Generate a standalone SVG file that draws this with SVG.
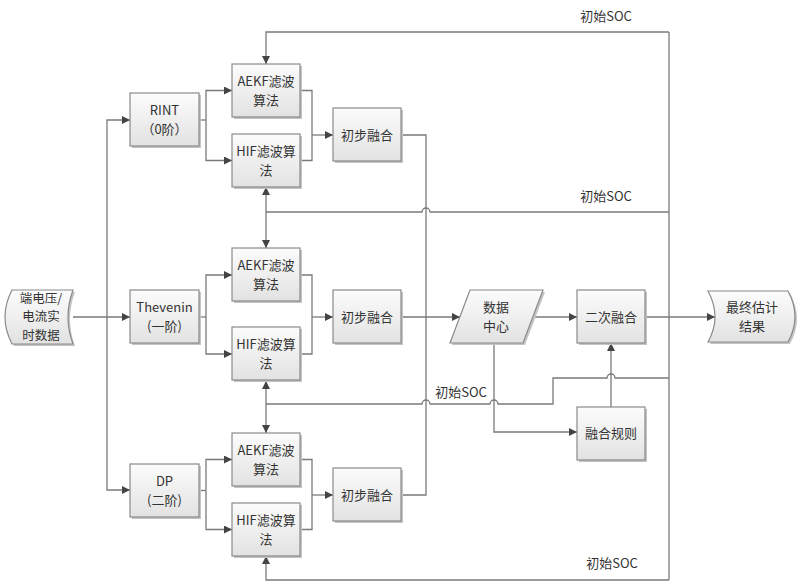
<svg xmlns="http://www.w3.org/2000/svg" width="800" height="586" viewBox="0 0 800 586">
<defs>
<linearGradient id="g" x1="0" y1="0" x2="0" y2="1">
<stop offset="0" stop-color="#fcfcfc"/>
<stop offset="1" stop-color="#e2e2e2"/>
</linearGradient>
<marker id="ar" viewBox="0 0 10 10" refX="10" refY="5" markerWidth="8" markerHeight="8" markerUnits="userSpaceOnUse" orient="auto">
<path d="M0,0 L10,5 L0,10 z" fill="#444"/>
</marker>
</defs>
<style>
.b{fill:url(#g);stroke:#8a8a8a;stroke-width:1.2}
.s{fill:#c4c4c4;stroke:none}
.t{font-family:"Noto Sans CJK SC","Noto Sans",sans-serif;font-size:13px;fill:#333;text-anchor:middle}
.ti{font-family:"Noto Sans CJK SC","Noto Sans",sans-serif;font-size:12.5px;fill:#333;text-anchor:middle}
.l{font-family:"Noto Sans CJK SC","Noto Sans",sans-serif;font-size:13px;fill:#333;text-anchor:middle}
.c{fill:none;stroke:#7a7a7a;stroke-width:1.3}
.a{marker-end:url(#ar)}
</style>
<rect width="800" height="586" fill="#fff"/>

<g id="connectors">
<path class="c a" d="M73,317 H130"/>
<path class="c a" d="M107,317 V120 H130"/>
<path class="c a" d="M107,317 V490 H130"/>
<!-- group 1 -->
<path class="c" d="M199,120 H206"/>
<path class="c a" d="M206,120 V90.5 H232"/>
<path class="c a" d="M206,120 V160.5 H232"/>
<path class="c" d="M300,90.5 H312 V160.5 H300"/>
<path class="c a" d="M312,135 H333"/>
<!-- group 2 -->
<path class="c" d="M199,317 H206"/>
<path class="c a" d="M206,317 V275 H232"/>
<path class="c a" d="M206,317 V354 H232"/>
<path class="c" d="M300,275 H312 V354 H300"/>
<path class="c a" d="M312,317 H333"/>
<!-- group 3 -->
<path class="c" d="M199,490.5 H206"/>
<path class="c a" d="M206,490.5 V459.5 H232"/>
<path class="c a" d="M206,490.5 V529.5 H232"/>
<path class="c" d="M300,459.5 H312 V529.5 H300"/>
<path class="c a" d="M312,495 H333"/>
<!-- preliminary fusion outputs -->
<path class="c" d="M401,135 H426 V495 H401"/>
<path class="c a" d="M401,317 H460"/>
<path class="c a" d="M533,317 H577"/>
<path class="c a" d="M645,317 H715"/>
<path class="c a" d="M494,343 V432 H577"/>
<path class="c a" d="M611,407 V343"/>
<!-- SOC feedback -->
<path class="c" d="M669,32 V580"/>
<path class="c a" d="M669,32 H266 V64"/>
<path class="c a" d="M669,580 H266 V556"/>
<path class="c" d="M266,212 H422 A4,4 0 0 1 430,212 H669"/>
<path class="c a" d="M266,212 V187"/>
<path class="c a" d="M266,212 V248"/>
<path class="c" d="M266,404 H422 A4,4 0 0 1 430,404 H490 A4,4 0 0 1 498,404 H553 V378 H607 A4,4 0 0 1 615,378 H669"/>
<path class="c a" d="M266,404 V381"/>
<path class="c a" d="M266,404 V433"/>
</g>

<g id="labels">
<text class="l" x="606" y="21">初始SOC</text>
<text class="l" x="606" y="201">初始SOC</text>
<text class="l" x="461" y="397">初始SOC</text>
<text class="l" x="612" y="568">初始SOC</text>
</g>

<g id="input">
<path class="s" d="M14,292 L75,292 Q65,319 75,346 L14,346 Q0,319 14,292 z"/>
<path class="b" d="M12,290 L73,290 Q63,317 73,344 L12,344 Q-2,317 12,290 z"/>
<text class="ti" x="41" y="302.5">端电压/</text>
<text class="ti" x="41" y="321">电流实</text>
<text class="ti" x="41" y="339.5">时数据</text>
</g>

<g id="rint">
<rect class="s" x="132" y="95" width="69" height="53"/>
<rect class="b" x="130" y="93" width="69" height="53"/>
<text class="t" x="164.5" y="114.5">RINT</text>
<text class="t" x="164.5" y="133.5">（0阶）</text>
</g>
<g id="thevenin">
<rect class="s" x="132" y="292" width="69" height="53"/>
<rect class="b" x="130" y="290" width="69" height="53"/>
<text class="t" x="164.5" y="311.5">Thevenin</text>
<text class="t" x="164.5" y="330.5">(一阶)</text>
</g>
<g id="dp">
<rect class="s" x="132" y="466" width="69" height="53"/>
<rect class="b" x="130" y="464" width="69" height="53"/>
<text class="t" x="164.5" y="485.5">DP</text>
<text class="t" x="164.5" y="504.5">(二阶)</text>
</g>

<g id="aekf1">
<rect class="s" x="234" y="66" width="68" height="53"/>
<rect class="b" x="232" y="64" width="68" height="53"/>
<text class="t" x="266" y="85.5">AEKF滤波</text>
<text class="t" x="266" y="104.5">算法</text>
</g>
<g id="hif1">
<rect class="s" x="234" y="136" width="68" height="53"/>
<rect class="b" x="232" y="134" width="68" height="53"/>
<text class="t" x="266" y="155.5">HIF滤波算</text>
<text class="t" x="266" y="174.5">法</text>
</g>
<g id="aekf2">
<rect class="s" x="234" y="250" width="68" height="53"/>
<rect class="b" x="232" y="248" width="68" height="53"/>
<text class="t" x="266" y="269.5">AEKF滤波</text>
<text class="t" x="266" y="288.5">算法</text>
</g>
<g id="hif2">
<rect class="s" x="234" y="329" width="68" height="53"/>
<rect class="b" x="232" y="327" width="68" height="53"/>
<text class="t" x="266" y="348.5">HIF滤波算</text>
<text class="t" x="266" y="367.5">法</text>
</g>
<g id="aekf3">
<rect class="s" x="234" y="435" width="68" height="53"/>
<rect class="b" x="232" y="433" width="68" height="53"/>
<text class="t" x="266" y="454.5">AEKF滤波</text>
<text class="t" x="266" y="473.5">算法</text>
</g>
<g id="hif3">
<rect class="s" x="234" y="505" width="68" height="53"/>
<rect class="b" x="232" y="503" width="68" height="53"/>
<text class="t" x="266" y="524.5">HIF滤波算</text>
<text class="t" x="266" y="543.5">法</text>
</g>

<g id="fuse1">
<rect class="s" x="335" y="110" width="68" height="53"/>
<rect class="b" x="333" y="108" width="68" height="53"/>
<text class="t" x="367" y="139.5">初步融合</text>
</g>
<g id="fuse2">
<rect class="s" x="335" y="292" width="68" height="53"/>
<rect class="b" x="333" y="290" width="68" height="53"/>
<text class="t" x="367" y="321.5">初步融合</text>
</g>
<g id="fuse3">
<rect class="s" x="335" y="470" width="68" height="53"/>
<rect class="b" x="333" y="468" width="68" height="53"/>
<text class="t" x="367" y="499.5">初步融合</text>
</g>

<g id="datacenter">
<path class="s" d="M472,292 L545,292 L525,345 L452,345 z"/>
<path class="b" d="M470,290 L543,290 L523,343 L450,343 z"/>
<text class="t" x="496" y="311.5">数据</text>
<text class="t" x="496" y="330.5">中心</text>
</g>

<g id="secondfusion">
<rect class="s" x="579" y="292" width="68" height="53"/>
<rect class="b" x="577" y="290" width="68" height="53"/>
<text class="t" x="611" y="321.5">二次融合</text>
</g>
<g id="rules">
<rect class="s" x="579" y="409" width="68" height="53"/>
<rect class="b" x="577" y="407" width="68" height="53"/>
<text class="t" x="611" y="438">融合规则</text>
</g>

<g id="output">
<path class="s" d="M710,293 L790,293 Q804,319 790,344 L710,344 Q724,319 710,293 z"/>
<path class="b" d="M708,291 L788,291 Q802,317 788,342 L708,342 Q722,317 708,291 z"/>
<text class="t" x="752" y="311.5">最终估计</text>
<text class="t" x="752" y="330.5">结果</text>
</g>
</svg>
